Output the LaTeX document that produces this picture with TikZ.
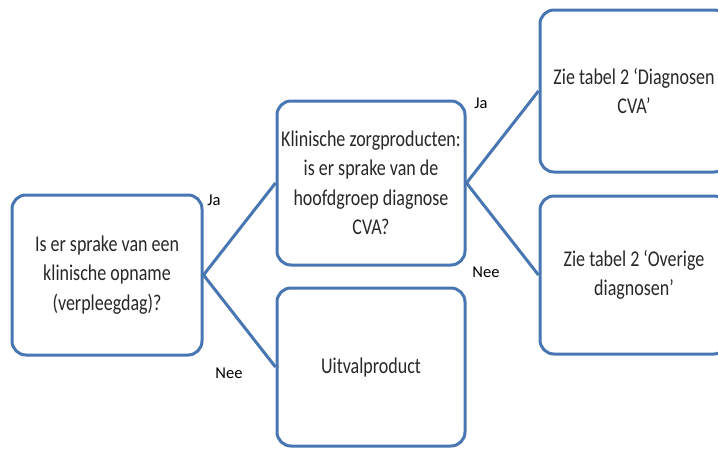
\documentclass[tikz,border=0pt]{standalone}
\usepackage{fontspec}
\setmainfont{Carlito}
\newfontfamily\boxfont[FakeStretch=0.8]{Carlito}
\usepackage{tikz}
\usetikzlibrary{calc}

\definecolor{boxblue}{RGB}{72,118,178}
\definecolor{txtgray}{RGB}{40,40,40}

\tikzset{
  stepbox/.style={draw=boxblue, line width=3pt, rounded corners=14pt, fill=white,
    minimum width=188pt, minimum height=160pt, align=center, text=txtgray,
    font=\boxfont\fontsize{22.5}{29.5}\selectfont},
  link/.style={draw=boxblue, line width=3pt},
  answer/.style={font=\fontsize{16.5}{18}\selectfont, text=black}
}

\begin{document}
\begin{tikzpicture}[x=1pt,y=-1pt]
    \useasboundingbox (0,0) rectangle (718,450);
    \clip (0,0) rectangle (718,450);

    \node[stepbox, minimum width=190pt] (opname) at (107,275) {Is er sprake van een\\klinische opname\\(verpleegdag)?};
    \node[stepbox, minimum height=164pt] (cva) at (371,183) {Klinische zorgproducten:\\is er sprake van de\\hoofdgroep diagnose\\CVA?};
    \node[stepbox, minimum height=158pt] (uitval) at (371,367) {Uitvalproduct};
    \node[stepbox, minimum height=162pt] (diagcva) at (634,91) {Zie tabel 2 ‘Diagnosen\\CVA’};
    \node[stepbox, minimum height=158pt] (overig) at (634,275) {Zie tabel 2 ‘Overige\\diagnosen’};

    \draw[link] (opname.east) -- (cva.west);
    \draw[link] (opname.east) -- (uitval.west);
    \draw[link] (cva.east) -- (diagcva.west);
    \draw[link] (cva.east) -- (overig.west);

    \node[answer] (ja1) at (214,200) {Ja};
    \node[answer] (nee1) at (229,373) {Nee};
    \node[answer] (ja2) at (481,103) {Ja};
    \node[answer] (nee2) at (486,272) {Nee};

  \end{tikzpicture}
\end{document}
